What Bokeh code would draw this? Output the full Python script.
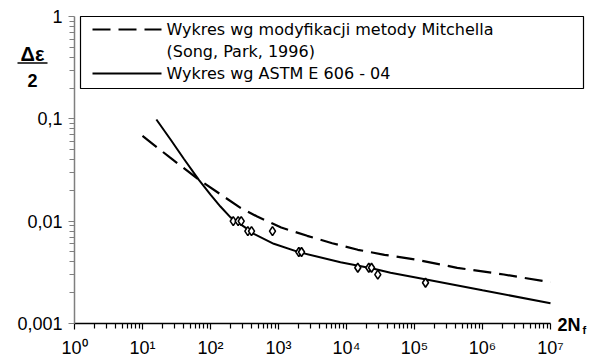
from bokeh.plotting import figure
from bokeh.models import FixedTicker, Label, Arrow, BoxAnnotation, Range1d
from bokeh.embed import file_html
from bokeh.resources import INLINE

# ---------------- data ----------------
# experimental points (2Nf, strain amplitude)
exp_x = [216, 255, 283, 354, 401, 816, 1990, 2180, 14660, 21280, 23330, 28860, 145200]
exp_y = [0.0100, 0.0100, 0.0100, 0.0080, 0.0080, 0.0080, 0.0050, 0.0050,
         0.0035, 0.0035, 0.0035, 0.0030, 0.0025]

# curve after the modified Mitchell method (dashed)
mitchell_x = [10, 25, 67, 276, 486, 1096, 2642, 6166, 14660, 36230, 109600, 424600, 2.06e6, 1e7]
mitchell_y = [0.068, 0.0422, 0.0255, 0.0135, 0.0111, 0.00867, 0.00719, 0.00609,
              0.00525, 0.00469, 0.00419, 0.00350, 0.00301, 0.00253]

# curve after ASTM E 606 - 04 (solid)
astm_x = [16, 26, 40.5, 67, 100, 140, 197, 347, 434, 853, 1990, 8160, 25200, 44400, 1e5, 1e6, 1e7]
astm_y = [0.0985, 0.0624, 0.0407, 0.0255, 0.0182, 0.0139, 0.0109, 0.00841, 0.00752,
          0.00601, 0.00498, 0.00397, 0.00342, 0.00313, 0.00283, 0.00211, 0.00158]

x_ticks = [1, 10, 100, 1000, 10000, 100000, 1000000, 10000000]
x_tick_labels = ["10\u2070", "10\u00b9", "10\u00b2", "10\u00b3", "10\u2074", "10\u2075", "10\u2076", "10\u2077"]
y_ticks = [0.001, 0.01, 0.1, 1]
y_tick_labels = ["0,001", "0,01", "0,1", "1"]

legend_labels = ["Wykres wg modyfikacji metody Mitchella", "(Song, Park, 1996)", "Wykres wg ASTM E 606 - 04"]

# ---------------- layout ----------------
# The frame covers the whole canvas; the axes are pinned at the range ends
# (fixed_location) and limited with bounds, so texts outside the axes are not clipped.
W, H = 600, 361
AX_L, AX_T = 74, 16          # canvas pixel of x=1 and of y=1
XDEC, YDEC = 68.0, 102.33    # pixels per decade


def px2x(px):
    """canvas pixel x -> data x"""
    return 10 ** ((px - AX_L) / XDEC)


def py2y(py):
    """canvas pixel y -> data y"""
    return 10 ** (-(py - AX_T) / YDEC)


p = figure(width=W, height=H, x_axis_type="log", y_axis_type="log",
           x_range=Range1d(px2x(0), px2x(W)), y_range=Range1d(py2y(H), py2y(0)),
           output_backend="svg", toolbar_location=None, title=None,
           min_border=0)
p.outline_line_color = None
p.background_fill_color = "white"
p.border_fill_color = "white"
p.xgrid.visible = False
p.ygrid.visible = False

x_minor = [m * t for t in x_ticks[:-1] for m in range(2, 10)]
y_minor = [m * t for t in y_ticks[:-1] for m in range(2, 10)]

xa = p.xaxis[0]
xa.ticker = FixedTicker(ticks=x_ticks, minor_ticks=x_minor)
xa.bounds = (x_ticks[0], x_ticks[-1])
xa.fixed_location = y_ticks[0]
xa.major_label_overrides = {t: l for t, l in zip(x_ticks, x_tick_labels)}
xa.axis_line_color = "black"
xa.axis_line_width = 1.5
xa.major_tick_line_color = "black"
xa.minor_tick_line_color = "black"
xa.major_tick_line_width = 1.2
xa.minor_tick_line_width = 1.2
xa.major_tick_in = 0
xa.major_tick_out = 6
xa.minor_tick_in = 0
xa.minor_tick_out = 5
xa.major_label_standoff = 9
xa.major_label_text_font = "Liberation Sans"
xa.major_label_text_font_size = "18px"
xa.major_label_text_color = "black"

ya = p.yaxis[0]
ya.ticker = FixedTicker(ticks=y_ticks, minor_ticks=y_minor)
ya.bounds = (y_ticks[0], y_ticks[-1])
ya.fixed_location = x_ticks[0]
ya.major_label_overrides = {t: l for t, l in zip(y_ticks, y_tick_labels)}
ya.axis_line_color = "#7f7f7f"
ya.axis_line_width = 1.5
ya.major_tick_line_color = "#7f7f7f"
ya.minor_tick_line_color = "#7f7f7f"
ya.major_tick_line_width = 1.2
ya.minor_tick_line_width = 1.2
ya.major_tick_in = 0
ya.major_tick_out = 6
ya.minor_tick_in = 0
ya.minor_tick_out = 5
ya.major_label_standoff = 6
ya.major_label_text_font = "Liberation Sans"
ya.major_label_text_font_size = "18px"
ya.major_label_text_color = "black"

# ---------------- data glyphs ----------------
p.line(mitchell_x, mitchell_y, line_color="black", line_width=2.2, line_dash="18 8")
p.line(astm_x, astm_y, line_color="black", line_width=2)
p.scatter(exp_x, exp_y, marker="diamond", size=9, fill_color="white",
          line_color="black", line_width=1.6)

# ---------------- legend (manual) ----------------
p.add_layout(BoxAnnotation(left=px2x(80), right=px2x(583), top=py2y(16), bottom=py2y(88),
                           fill_color="white", fill_alpha=1, line_color="black", line_width=1.2,
                           line_alpha=1, level="underlay"))
p.add_layout(Arrow(start=None, end=None, x_start=px2x(92), y_start=py2y(29),
                   x_end=px2x(161), y_end=py2y(29), line_color="black", line_width=2.2,
                   line_dash="18 8"))
p.add_layout(Arrow(start=None, end=None, x_start=px2x(92), y_start=py2y(73),
                   x_end=px2x(161), y_end=py2y(73), line_color="black", line_width=2))
for lab, ly in zip(legend_labels, [29, 51, 73]):
    p.add_layout(Label(x=px2x(166), y=py2y(ly), text=lab, text_baseline="middle",
                       text_align="left", text_font="DejaVu Sans", text_font_size="16px",
                       text_color="black"))

# ---------------- axis titles ----------------
p.add_layout(Label(x=px2x(32), y=py2y(53), text="\u0394\u03b5", text_baseline="middle",
                   text_align="center", text_font="Liberation Sans", text_font_size="20px",
                   text_font_style="bold", text_color="black"))
p.add_layout(Arrow(start=None, end=None, x_start=px2x(17), y_start=py2y(62.5),
                   x_end=px2x(47), y_end=py2y(62.5), line_color="black", line_width=1.6))
p.add_layout(Label(x=px2x(32), y=py2y(80), text="2", text_baseline="middle",
                   text_align="center", text_font="Liberation Sans", text_font_size="18px",
                   text_font_style="bold", text_color="black"))
p.add_layout(Label(x=px2x(557), y=py2y(324), text="2N", text_baseline="middle",
                   text_align="left", text_font="Liberation Sans", text_font_size="18px",
                   text_font_style="bold", text_color="black"))
p.add_layout(Label(x=px2x(582), y=py2y(329), text="f", text_baseline="middle",
                   text_align="left", text_font="Liberation Sans", text_font_size="11px",
                   text_font_style="bold", text_color="black"))

open("out.html", "w").write(file_html(p, INLINE))
